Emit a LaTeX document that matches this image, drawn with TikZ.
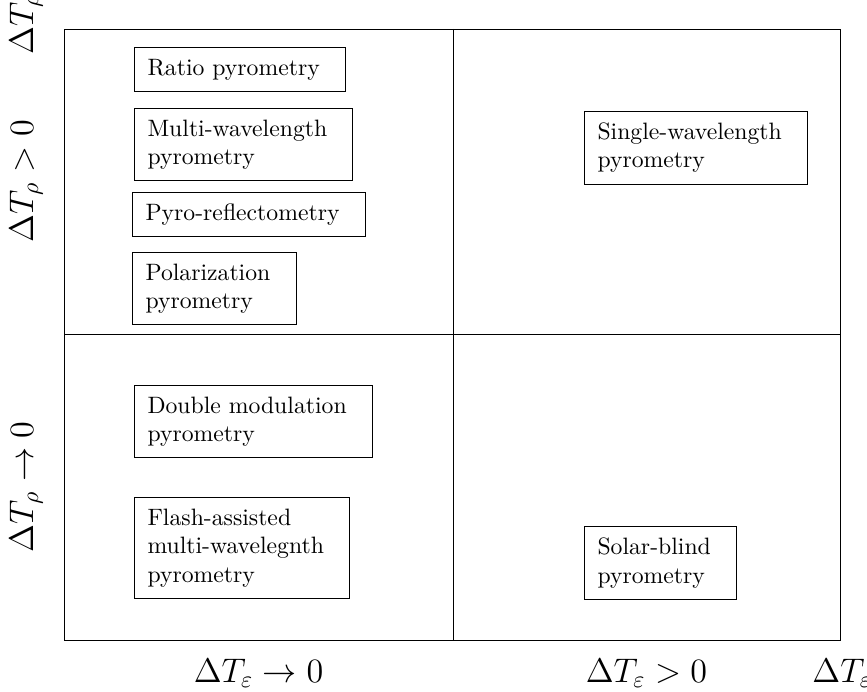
\documentclass[tikz,border=0pt]{standalone}
\usepackage{amsmath,amssymb}
\usepackage{tikz}

\begin{document}
\begin{tikzpicture}[
  x=0.422pt, y=-0.422pt,
  every node/.style={align=left},
  method/.style={draw,anchor=north west,inner xsep=5.5pt,inner ysep=4.8pt,text width=#1},
  axislabel/.style={font=\Large,inner sep=0pt},
  frame/.style={thin}]

  % Fix the page to the size of the figure
  \useasboundingbox (0,0) rectangle (867,691);

  % The four quadrants
  \coordinate (NW) at (64,29);
  \coordinate (SE) at (840,640);
  \draw[frame] (NW) rectangle (SE);
  \draw[frame] (453,29) -- (453,640);
  \draw[frame] (64,334) -- (840,334);

  % Methods in each quadrant
  \node[method=78pt] (Ratio) at (134,47) {Ratio pyrometry};
  \node[method=81pt] (Multi) at (134,108) {Multi-wavelength\\pyrometry};
  \node[method=87.3pt] (Reflecto) at (132,192) {Pyro-reflectometry};
  \node[method=58.2pt] (Polar) at (132,252) {Polarization\\pyrometry};
  \node[method=83.1pt] (Single) at (584,111) {Single-wavelength\\pyrometry};
  \node[method=89.4pt] (Double) at (134,385) {Double modulation\\pyrometry};
  \node[method=79.7pt] (Flash) at (134,497) {Flash-assisted\\multi-wavelegnth\\pyrometry};
  \node[method=53.1pt] (Solar) at (584,526) {Solar-blind\\pyrometry};

  % Axis labels
  \node[axislabel,anchor=base] (EpsZero) at (258.5,682) {$\Delta T_\varepsilon \to 0$};
  \node[axislabel,anchor=base] (EpsPos) at (646.5,682) {$\Delta T_\varepsilon > 0$};
  \node[axislabel,anchor=base west] (EpsAxis) at (812,682) {$\Delta T_\varepsilon$};
  \node[axislabel,anchor=base,rotate=90] (RhoPos) at (33,181.5) {$\Delta T_\rho > 0$};
  \node[axislabel,anchor=base,rotate=90] (RhoZero) at (33,487) {$\Delta T_\rho \to 0$};
  \node[axislabel,anchor=base west,rotate=90] (RhoAxis) at (33,55) {$\Delta T_\rho$};
\end{tikzpicture}
\end{document}
